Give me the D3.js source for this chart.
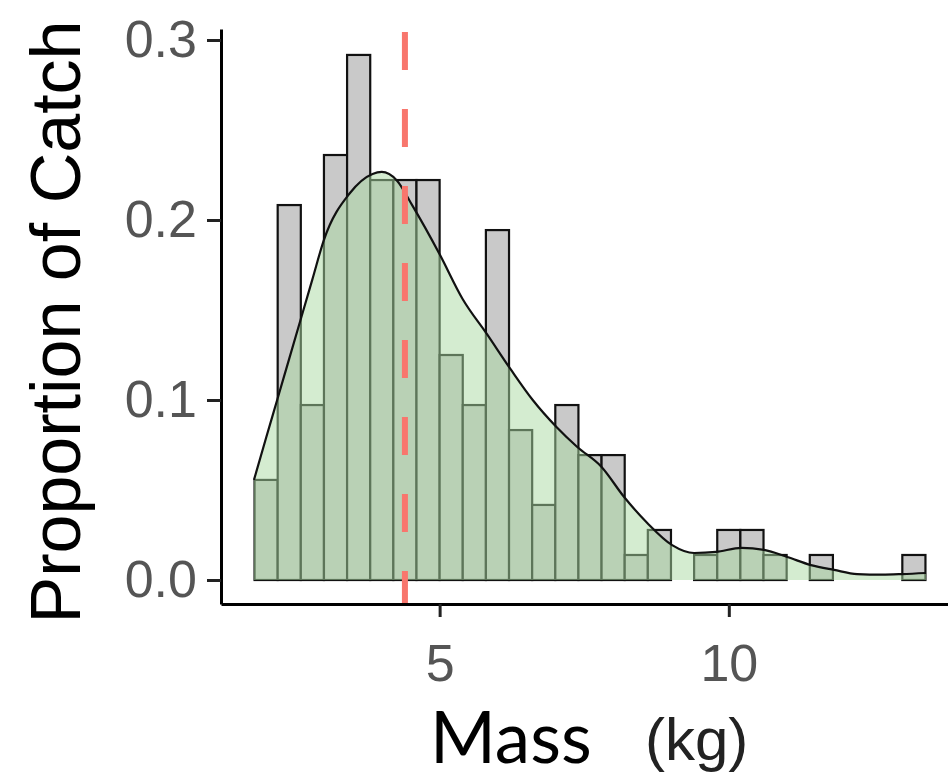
<!DOCTYPE html>
<html>
<head>
<meta charset="utf-8">
<script src="https://cdn.jsdelivr.net/npm/d3@7"></script>
<style>
  html, body { margin: 0; padding: 0; background: #ffffff; }
  svg { display: block; }
</style>
</head>
<body>
<svg id="chart" width="948" height="780"></svg>
<script>
// Histogram bins: lower edge of each 0.4 kg bin and its density height
const binWidth = 0.4;
const binLower = [1.8, 2.2, 2.6, 3.0, 3.4, 3.8, 4.2, 4.6, 5.0, 5.4, 5.8, 6.2, 6.6, 7.0, 7.4,
                  7.8, 8.2, 8.6, 9.0, 9.4, 9.8, 10.2, 10.6, 11.0, 11.4, 11.8, 12.2, 12.6, 13.0];
const binHeight = [0.0556, 0.2083, 0.0972, 0.2361, 0.2917, 0.2222, 0.2222, 0.2222, 0.1250, 0.0972,
                   0.1944, 0.0833, 0.0417, 0.0972, 0.0694, 0.0694, 0.0139, 0.0278, 0.0, 0.0139,
                   0.0278, 0.0278, 0.0139, 0.0, 0.0139, 0.0, 0.0, 0.0, 0.0139];

// Kernel density estimate of mass
const densMass  = [1.79, 2.0, 2.2, 2.4, 2.6, 2.8, 3.0, 3.45, 3.84, 4.0, 4.26, 4.53, 5.0, 5.4, 5.81,
                   6.23, 6.61, 7.02, 7.38, 7.8, 8.19, 8.59, 9.02, 9.4, 9.78, 10.22, 10.61, 11.01,
                   11.42, 11.82, 12.22, 12.65, 13.0, 13.41];
const densValue = [0.0556, 0.079, 0.101, 0.123, 0.145, 0.167, 0.189, 0.215, 0.2256, 0.2267, 0.222,
                   0.208, 0.181, 0.156, 0.137, 0.117, 0.100, 0.085, 0.0739, 0.0628, 0.0461, 0.0317,
                   0.0194, 0.0150, 0.0156, 0.0178, 0.0167, 0.0128, 0.0083, 0.0056, 0.0033, 0.0030,
                   0.0033, 0.0039];

// Mean mass
const meanMass = 4.4;

// Axis ticks
const xTicks = [5, 10];
const yTicks = [0.0, 0.1, 0.2, 0.3];

const svg = d3.select("#chart");

const x = d3.scaleLinear().domain([1.22, 13.98]).range([221, 959]);
const y = d3.scaleLinear().domain([-0.01333, 0.30611]).range([604, 29]);

const plot = svg.append("g");

// Histogram bars
plot.selectAll("rect.bar")
  .data(binLower.map((lo, i) => ({ lo, h: binHeight[i] })))
  .join("rect")
  .attr("class", "bar")
  .attr("x", d => x(d.lo))
  .attr("width", d => x(d.lo + binWidth) - x(d.lo))
  .attr("y", d => y(d.h))
  .attr("height", d => y(0) - y(d.h))
  .attr("fill", "#c9c9c9")
  .attr("stroke", "#111")
  .attr("stroke-width", 2.2);

// Density area and outline
const dens = densMass.map((m, i) => ({ m, v: densValue[i] }));
const area = d3.area()
  .x(d => x(d.m)).y0(y(0)).y1(d => y(d.v))
  .curve(d3.curveMonotoneX);
const line = d3.line()
  .x(d => x(d.m)).y(d => y(d.v))
  .curve(d3.curveMonotoneX);

plot.append("path")
  .datum(dens)
  .attr("d", area)
  .attr("fill", "rgb(169,217,161)")
  .attr("fill-opacity", 0.5);

plot.append("path")
  .datum(dens)
  .attr("d", line)
  .attr("fill", "none")
  .attr("stroke", "#111")
  .attr("stroke-width", 2.2);

// Mean line
plot.append("line")
  .attr("x1", x(meanMass)).attr("x2", x(meanMass))
  .attr("y1", y.range()[1] + 3).attr("y2", y.range()[0])
  .attr("stroke", "#F8766D")
  .attr("stroke-width", 6)
  .attr("stroke-dasharray", "38,39");

// Axes
const yAxis = d3.axisLeft(y)
  .tickValues(yTicks)
  .tickFormat(d3.format(".1f"))
  .tickSize(14)
  .tickSizeOuter(0)
  .tickPadding(10);

const gy = svg.append("g")
  .attr("transform", `translate(${x.range()[0]},0)`)
  .call(yAxis);

const xAxis = d3.axisBottom(x)
  .tickValues(xTicks)
  .tickFormat(d3.format("d"))
  .tickSize(13)
  .tickSizeOuter(0)
  .tickPadding(27);

const gx = svg.append("g")
  .attr("transform", `translate(0,${y.range()[0]})`)
  .call(xAxis);

[gx, gy].forEach(g => {
  g.select(".domain").attr("stroke", "#000").attr("stroke-width", 3);
  g.selectAll(".tick line").attr("stroke", "#222").attr("stroke-width", 3);
  g.selectAll(".tick text")
    .attr("fill", "#555")
    .style("font-family", "'Liberation Sans', Arial, sans-serif")
    .style("font-size", "52px");
});

// Axis titles
svg.append("text")
  .attr("transform", `translate(80,322) rotate(-90)`)
  .attr("text-anchor", "middle")
  .style("font-family", "'Liberation Sans', Arial, sans-serif")
  .style("font-size", "70px")
  .attr("fill", "#000")
  .text("Proportion of Catch");

svg.append("text")
  .attr("x", 430).attr("y", 763)
  .style("font-family", "Lato, 'Open Sans', sans-serif")
  .style("font-size", "71px")
  .attr("fill", "#000")
  .text("Mass");

svg.append("text")
  .attr("x", 645).attr("y", 760)
  .style("font-family", "'Liberation Sans', Arial, sans-serif")
  .style("font-size", "60px")
  .attr("fill", "#222")
  .text("(kg)");
</script>
</body>
</html>
